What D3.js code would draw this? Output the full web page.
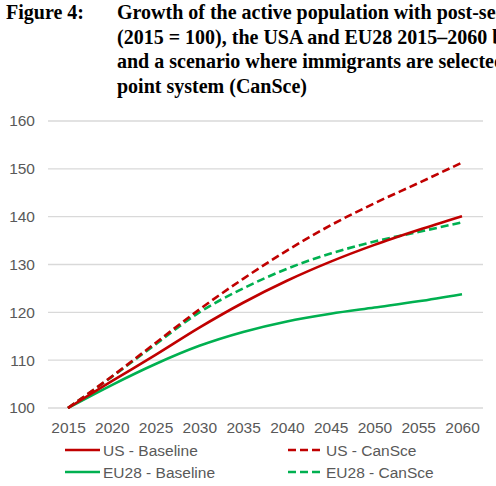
<!DOCTYPE html>
<html>
<head>
<meta charset="utf-8">
<script src="https://cdn.jsdelivr.net/npm/d3@7"></script>
<style>
  body { margin: 0; background: #fff; }
  svg { display: block; }
</style>
</head>
<body>
<svg id="chart" width="496" height="486"></svg>
<script>
// data
var years = [2015, 2020, 2025, 2030, 2035, 2040, 2045, 2050, 2055, 2060];
var usBaseline = [100, 105.6, 111.1, 116.8, 122.0, 126.6, 130.6, 134.1, 137.2, 140.1];
var usCanSce   = [100, 106.6, 113.6, 120.6, 127.0, 132.9, 138.2, 142.8, 147.0, 151.3];
var euBaseline = [100, 104.8, 109.2, 113.0, 115.9, 118.1, 119.7, 121.0, 122.3, 123.8];
var euCanSce   = [100, 106.5, 113.3, 120.0, 125.0, 129.1, 132.3, 134.8, 136.8, 138.8];
var yTicks = [100, 110, 120, 130, 140, 150, 160];
var titleLines = [
  "Growth of the active population with post-secondary education",
  "(2015 = 100), the USA and EU28 2015\u20132060 baseline",
  "and a scenario where immigrants are selected with a",
  "point system (CanSce)"
];

var series = [
  {name: "US - Baseline", values: usBaseline, color: "#c00000", dash: null},
  {name: "US - CanSce", values: usCanSce, color: "#c00000", dash: "8,4"},
  {name: "EU28 - Baseline", values: euBaseline, color: "#00b050", dash: null},
  {name: "EU28 - CanSce", values: euCanSce, color: "#00b050", dash: "8,4"}
];

var svg = d3.select("#chart");
var sans = "Arial, 'Liberation Sans', sans-serif";

// title (runs off the right edge, as in the source)
var title = svg.append("g").attr("font-family", "'Liberation Serif', 'Times New Roman', serif")
  .attr("font-weight", "bold").attr("font-size", 20).attr("fill", "#000");
title.append("text").attr("x", 6).attr("y", 19).text("Figure 4:");
titleLines.forEach(function(t, i) {
  title.append("text").attr("x", 117).attr("y", 19 + i * 24.5).text(t);
});

var x = d3.scaleLinear().domain([2015, 2060]).range([68, 462]);
var y = d3.scaleLinear().domain([100, 160]).range([408, 121]);

// gridlines
svg.append("g").selectAll("line").data(yTicks).enter().append("line")
  .attr("x1", 48).attr("x2", 483)
  .attr("y1", function(d) { return y(d); }).attr("y2", function(d) { return y(d); })
  .attr("stroke", "#d9d9d9").attr("stroke-width", 1.3);

// y axis labels
var yAxis = svg.append("g").attr("transform", "translate(35,0)")
  .call(d3.axisLeft(y).tickValues(yTicks).tickSize(0).tickPadding(0));
yAxis.select(".domain").remove();
yAxis.selectAll("text").attr("font-family", sans)
  .attr("font-size", 15.5).attr("fill", "#595959");

// x axis labels
var xAxis = svg.append("g").attr("transform", "translate(0,422)")
  .call(d3.axisBottom(x).tickValues(years).tickFormat(d3.format("d")).tickSize(0).tickPadding(0));
xAxis.select(".domain").remove();
xAxis.selectAll("text").attr("font-family", sans)
  .attr("font-size", 15.5).attr("fill", "#595959");

var line = d3.line()
  .x(function(d, i) { return x(years[i]); })
  .y(function(d) { return y(d); })
  .curve(d3.curveMonotoneX);

// draw in back-to-front order
[2, 3, 0, 1].forEach(function(k) {
  var s = series[k];
  svg.append("path").datum(s.values)
    .attr("d", line)
    .attr("fill", "none")
    .attr("stroke", s.color)
    .attr("stroke-width", 2.6)
    .attr("stroke-dasharray", s.dash);
});

// legend
var legPos = [[65, 450], [288, 450], [65, 472], [288, 472]];
series.forEach(function(s, i) {
  var g = svg.append("g").attr("transform", "translate(" + legPos[i][0] + "," + legPos[i][1] + ")");
  g.append("line").attr("x1", 0).attr("x2", 35).attr("y1", 0).attr("y2", 0)
    .attr("stroke", s.color).attr("stroke-width", 2.6).attr("stroke-dasharray", s.dash);
  g.append("text").attr("x", 38).attr("y", 5.5)
    .attr("font-family", sans)
    .attr("font-size", 15.5).attr("fill", "#595959").text(s.name);
});
</script>
</body>
</html>
